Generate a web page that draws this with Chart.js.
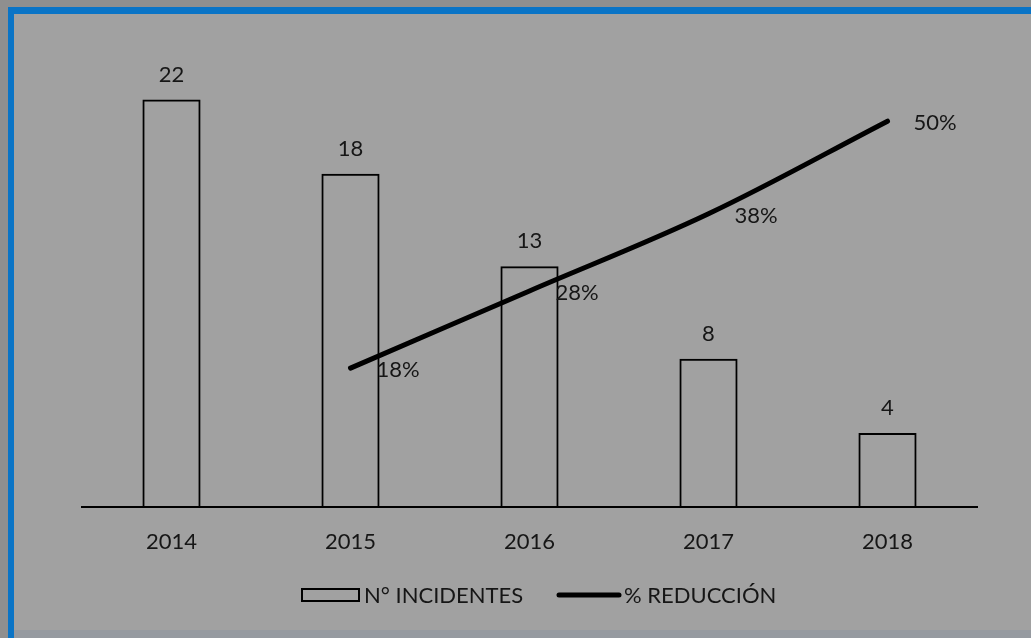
<!DOCTYPE html>
<html>
<head>
<meta charset="utf-8">
<script src="https://cdn.jsdelivr.net/npm/chart.js@4.4.1/dist/chart.umd.min.js"></script>
<style>
  html, body { margin: 0; padding: 0; }
  body { width: 1031px; height: 638px; background: #8f8f8f; position: relative; overflow: hidden; }
  #frame {
    position: absolute; left: 8px; top: 7px; width: 1040px; height: 640px;
    border-top: 7px solid #0a74c6; border-left: 6px solid #0a74c6;
    background: #a1a1a1; box-sizing: border-box;
  }
  #bottomStrip { position: absolute; left: 14px; top: 630px; width: 1017px; height: 8px; background: #969aa0; }
  #chart { position: absolute; left: 0; top: 0; }
</style>
</head>
<body>
<div id="frame"></div>
<div id="bottomStrip"></div>
<canvas id="chart" width="1031" height="638"></canvas>
<script>
// Incidents per year and the cumulative reduction percentage
const years = ['2014', '2015', '2016', '2017', '2018'];
const incidentes = [22, 18, 13, 8, 4];
const reduccion = [null, 18, 28, 38, 50];
const seriesNames = ['N° INCIDENTES', '% REDUCCIÓN'];

const FONT = 'Lato, "Open Sans", sans-serif';
const INK = '#161616';
const SIZE = 22;

// Value labels: bar totals above each bar, percentages to the right of each line point
const valueLabels = {
  id: 'valueLabels',
  afterDatasetsDraw(chart) {
    const ctx = chart.ctx;
    ctx.save();
    ctx.fillStyle = INK;
    ctx.font = SIZE + 'px ' + FONT;
    ctx.textBaseline = 'middle';
    const barMeta = chart.getDatasetMeta(0);
    barMeta.data.forEach((bar, i) => {
      ctx.textAlign = 'center';
      ctx.fillText(String(incidentes[i]), bar.x, bar.y - 25);
    });
    const lineMeta = chart.getDatasetMeta(1);
    lineMeta.data.forEach((pt, i) => {
      if (reduccion[i] === null) return;
      ctx.textAlign = 'left';
      ctx.fillText(reduccion[i] + '%', pt.x + 26, pt.y + 2);
    });
    ctx.restore();
  }
};

// Legend drawn beneath the axis labels
const bottomLegend = {
  id: 'bottomLegend',
  afterDraw(chart) {
    const ctx = chart.ctx;
    const cy = 595;
    ctx.save();
    ctx.strokeStyle = '#000';
    ctx.lineWidth = 2;
    ctx.strokeRect(302, 589, 57, 12);
    ctx.lineWidth = 5;
    ctx.lineCap = 'round';
    ctx.beginPath();
    ctx.moveTo(559, cy);
    ctx.lineTo(619, cy);
    ctx.stroke();
    ctx.fillStyle = INK;
    ctx.font = SIZE + 'px ' + FONT;
    ctx.textBaseline = 'middle';
    ctx.textAlign = 'left';
    ctx.fillText(chart.data.datasets[0].label, 364, cy + 1);
    ctx.fillText(chart.data.datasets[1].label, 624, cy + 1);
    ctx.restore();
  }
};

new Chart(document.getElementById('chart'), {
  data: {
    labels: years,
    datasets: [
      {
        type: 'bar',
        label: seriesNames[0],
        data: incidentes,
        backgroundColor: 'rgba(0,0,0,0)',
        borderColor: '#000',
        borderWidth: 2,
        categoryPercentage: 1,
        barPercentage: 0.325,
        yAxisID: 'y',
        order: 2
      },
      {
        type: 'line',
        label: seriesNames[1],
        data: reduccion,
        borderColor: '#000',
        borderWidth: 5,
        borderCapStyle: 'round',
        pointRadius: 0,
        tension: 0.35,
        fill: false,
        yAxisID: 'y1',
        order: 1
      }
    ]
  },
  options: {
    responsive: false,
    animation: false,
    devicePixelRatio: 1,
    layout: { padding: { left: 82, right: 54, top: 44, bottom: 71 } },
    plugins: {
      legend: { display: false },
      tooltip: { enabled: false }
    },
    scales: {
      x: {
        offset: true,
        grid: { display: true, drawOnChartArea: false, drawTicks: false, color: 'rgba(0,0,0,0)' },
        border: { display: true, color: '#000', width: 2 },
        ticks: { color: INK, font: { family: FONT, size: SIZE }, padding: 22 },
        afterFit(scale) { scale.height = 60; }
      },
      y: { display: false, min: 0, max: 25 },
      y1: { display: false, min: 0, max: 60, position: 'right' }
    }
  },
  plugins: [valueLabels, bottomLegend]
});
</script>
</body>
</html>
